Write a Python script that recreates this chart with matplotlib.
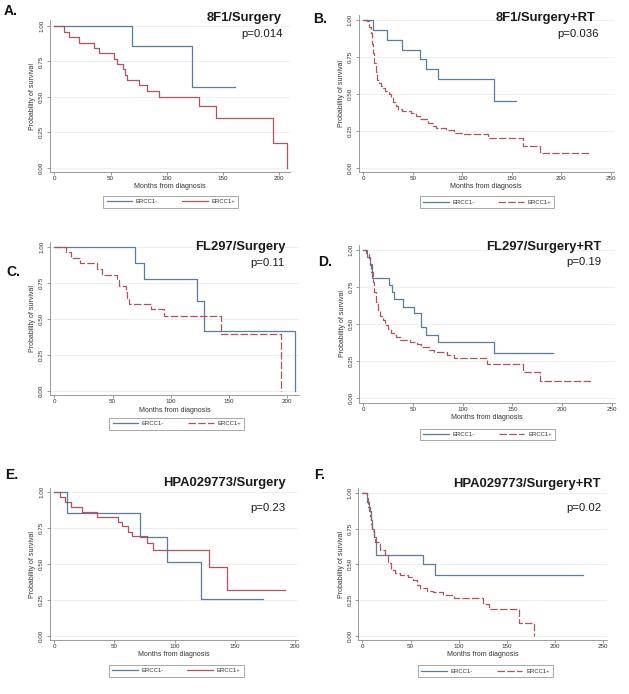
import matplotlib
matplotlib.use("Agg")
import matplotlib.pyplot as plt

plt.rcParams['font.family'] = ['Liberation Sans', 'DejaVu Sans']

#   Datos: tiempos en meses, supervivencia
A_neg_t = [0, 69, 122, 161]
A_neg_s = [1.0, 0.857, 0.571, 0.571]
A_pos_t = [0, 9, 13, 21.6, 35.6, 40, 53, 56, 60.7, 62.5, 64.3, 75.6, 82.4, 93.3, 128.6, 143.4, 194.7, 206.5]
A_pos_s = [1.0, 0.96, 0.92, 0.882, 0.847, 0.807, 0.769, 0.732, 0.696, 0.656, 0.619, 0.581, 0.544, 0.496, 0.435, 0.35, 0.176, 0.0]

B_neg_t = [0, 10.1, 24.3, 39, 57.3, 63.3, 75.5, 132.4, 154]
B_neg_s = [1.0, 0.932, 0.865, 0.80, 0.734, 0.666, 0.598, 0.449, 0.449]
B_pos_t = [0, 3.4, 6, 7.4, 8.8, 10, 11, 12.5, 14, 15.8, 17.9, 20.2, 22.2, 25.6, 28.3, 30.3, 32.7, 35.4, 38.7,
           47.8, 53.2, 57.3, 65.7, 70.8, 73.5, 83.6, 91.6, 101, 125.7, 161.7, 178.6, 229]
B_pos_s = [1.0, 0.99, 0.955, 0.91, 0.84, 0.774, 0.707, 0.65, 0.594, 0.571, 0.553, 0.537, 0.519, 0.499, 0.476, 0.447,
           0.418, 0.40, 0.386, 0.368, 0.35, 0.327, 0.305, 0.282, 0.269, 0.255, 0.237, 0.228, 0.203, 0.149, 0.097, 0.097]

C_neg_t = [0, 69.2, 77, 122.7, 128.5, 206.9]
C_neg_s = [1.0, 0.889, 0.778, 0.622, 0.415, 0.0]
C_pos_t = [0, 9.7, 14, 22.3, 36.3, 40.6, 54, 55.8, 61.2, 62.7, 64.4, 82.7, 94.1, 143, 195]
C_pos_s = [1.0, 0.96, 0.924, 0.884, 0.845, 0.803, 0.766, 0.727, 0.688, 0.646, 0.604, 0.565, 0.521, 0.391, 0.0]

D_neg_t = [0, 3.4, 6.7, 9, 26.2, 28.6, 31.2, 39.6, 51.3, 57.7, 62.8, 75.5, 131.9, 191]
D_neg_s = [1.0, 0.952, 0.905, 0.81, 0.764, 0.719, 0.668, 0.618, 0.573, 0.479, 0.427, 0.382, 0.303, 0.303]
D_pos_t = [0, 2.7, 5.4, 6.7, 8, 9.4, 10.7, 12.4, 14.4, 16.8, 19.5, 22.1, 24.8, 28.2, 32.9, 36.9, 47, 54.4, 57.7,
           65.8, 71.1, 83.9, 91.3, 124, 161, 178, 230]
D_pos_s = [1.0, 0.98, 0.944, 0.899, 0.854, 0.787, 0.719, 0.652, 0.596, 0.557, 0.528, 0.494, 0.467, 0.438, 0.416,
           0.393, 0.378, 0.364, 0.348, 0.326, 0.31, 0.292, 0.27, 0.229, 0.175, 0.119, 0.119]

E_neg_t = [0, 10.8, 71.2, 93.9, 122.2, 173]
E_neg_s = [1.0, 0.855, 0.684, 0.51, 0.254, 0.254]
E_pos_t = [0, 4.7, 8.9, 13.6, 22.7, 35.2, 53.2, 56, 61.5, 64.3, 76.7, 82.2, 128.8, 143.2, 191.7]
E_pos_s = [1.0, 0.966, 0.931, 0.897, 0.862, 0.828, 0.793, 0.759, 0.724, 0.69, 0.644, 0.598, 0.478, 0.318, 0.318]

F_neg_t = [0, 5, 7, 9, 10.5, 12, 13.9, 63.3, 75.4, 229]
F_neg_s = [1.0, 0.9375, 0.875, 0.8125, 0.75, 0.6875, 0.5625, 0.5, 0.4286, 0.4286]
F_pos_t = [0, 4.5, 6, 7.5, 9, 10.5, 12, 13.2, 18.4, 23.5, 27, 29.8, 34, 39, 47.7, 52.9, 56.4, 59.9, 66.8, 73.7,
           84, 95, 125.5, 131.4, 162.5, 178]
F_pos_s = [1.0, 0.96, 0.9, 0.84, 0.78, 0.73, 0.69, 0.658, 0.6, 0.565, 0.507, 0.46, 0.437, 0.425, 0.414, 0.39,
           0.356, 0.337, 0.314, 0.305, 0.286, 0.265, 0.223, 0.188, 0.093, 0.0]

etiquetas = ["A.", "B.", "C.", "D.", "E.", "F."]
titulos = ["8F1/Surgery", "8F1/Surgery+RT", "FL297/Surgery", "FL297/Surgery+RT",
           "HPA029773/Surgery", "HPA029773/Surgery+RT"]
pvalores = ["p=0.014", "p=0.036", "p=0.11", "p=0.19", "p=0.23", "p=0.02"]
series = ["ERCC1-", "ERCC1+"]
curvas = [(A_neg_t, A_neg_s, A_pos_t, A_pos_s), (B_neg_t, B_neg_s, B_pos_t, B_pos_s),
          (C_neg_t, C_neg_s, C_pos_t, C_pos_s), (D_neg_t, D_neg_s, D_pos_t, D_pos_s),
          (E_neg_t, E_neg_s, E_pos_t, E_pos_s), (F_neg_t, F_neg_s, F_pos_t, F_pos_s)]
xmax_tick = [200, 250, 200, 250, 200, 250]
discontinua = [False, True, True, True, False, True]

#   Disposicion (pixeles de la figura)
W, H = 629, 694
# L, R, T, B del area, x0px, px/unidad x, y0px, px/unidad y
marcos = [(50, 290, 20, 172, 54.3, 1.125, 167.7, 141.7),
          (358.5, 614, 15, 172, 363.3, 0.9893, 167.7, 147.7),
          (50, 299, 241.7, 395, 54.3, 1.165, 390.7, 144.0),
          (359.3, 615, 245, 402.7, 363.3, 0.9936, 398.3, 148.3),
          (50, 298.3, 488.3, 640, 54.3, 1.2035, 636, 144.3),
          (358.3, 606.7, 488.3, 640, 362.3, 0.964, 636, 143.3)]
pos_titulo = [(281.7, 18.3), (596, 18), (286, 246.7), (601.7, 246.7), (286, 483.3), (600.7, 484)]
pos_p = [(283, 34), (599, 34), (285, 262.7), (601.7, 262.3), (285, 508.3), (601.7, 508.3)]
pos_etiq = [(4, 10.7), (313.3, 19), (6.7, 271.7), (318.3, 261.7), (5, 475), (314, 475)]
pos_leyenda = [(170.8, 201.7), (487, 202), (176.7, 423.8), (487.5, 434.5), (176.2, 670.7), (485.5, 671.2)]

azul = '#5a7b9a'
rojo = '#b5505e'
gris = '#8a8a8a'
texto = '#333333'

fig = plt.figure(figsize=(W / 100, H / 100), dpi=100)

for i in range(6):
    L, R, T, B, x0, xs, y0, ys = marcos[i]
    ax = fig.add_axes([L / W, 1 - B / H, (R - L) / W, (B - T) / H])
    ax.set_xlim((L - x0) / xs, (R - x0) / xs)
    ax.set_ylim((y0 - B) / ys, (y0 - T) / ys)

    tn, sn, tp, sp = curvas[i]
    for y in [0, 0.25, 0.5, 0.75, 1.0]:
        ax.axhline(y, color='#ececec', lw=0.6, zorder=0)
    ax.step(tn, sn, where='post', color=azul, lw=0.9, label=series[0])
    if discontinua[i]:
        ax.step(tp, sp, where='post', color=rojo, lw=0.9, linestyle=(0, (6, 1.8)), label=series[1])
    else:
        ax.step(tp, sp, where='post', color=rojo, lw=0.9, label=series[1])

    ax.set_xticks(list(range(0, xmax_tick[i] + 1, 50)))
    ax.set_yticks([0, 0.25, 0.5, 0.75, 1.0])
    ax.set_yticklabels(["0.00", "0.25", "0.50", "0.75", "1.00"], rotation=90, va='center')
    ax.tick_params(axis='both', labelsize=4.5, labelcolor=texto, color=gris, length=2.2, width=0.6)
    ax.tick_params(axis='x', pad=1.0)
    ax.tick_params(axis='y', pad=2.0)
    for lado in ['top', 'right']:
        ax.spines[lado].set_visible(False)
    for lado in ['left', 'bottom']:
        ax.spines[lado].set_color(gris)
        ax.spines[lado].set_linewidth(0.6)

    ax.set_xlabel("Months from diagnosis", fontsize=5, color=texto)
    ax.set_ylabel("Probability of survival", fontsize=5, color=texto)
    ax.xaxis.set_label_coords(0.5, -11.5 / (B - T))
    ax.yaxis.set_label_coords(-13.5 / (R - L), 0.5)

    ley = ax.legend(loc='center', bbox_to_anchor=(pos_leyenda[i][0] / W, 1 - pos_leyenda[i][1] / H),
                    bbox_transform=fig.transFigure, ncol=2, fontsize=4.3, fancybox=False,
                    edgecolor='#9a9a9a', framealpha=1, handlelength=4.3, handletextpad=0.6,
                    columnspacing=4.0, borderpad=0.55, borderaxespad=0)
    ley.get_frame().set_linewidth(0.6)
    for t in ley.get_texts():
        t.set_color(texto)

    fig.text(pos_titulo[i][0] / W, 1 - pos_titulo[i][1] / H, titulos[i], ha='right', va='center',
             fontsize=9.4, fontweight='bold', color='#1a1a1a')
    fig.text(pos_p[i][0] / W, 1 - pos_p[i][1] / H, pvalores[i], ha='right', va='center',
             fontsize=8.2, color='#1a1a1a')
    fig.text(pos_etiq[i][0] / W, 1 - pos_etiq[i][1] / H, etiquetas[i], ha='left', va='center',
             fontsize=10, fontweight='bold', color='#111111')

fig.savefig("out.png", dpi=100)
